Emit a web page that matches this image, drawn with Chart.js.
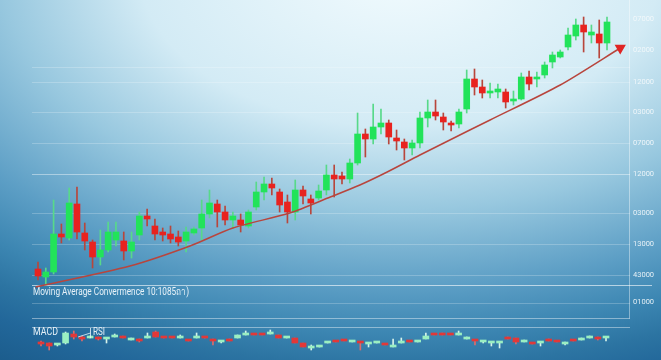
<!DOCTYPE html>
<html>
<head>
<meta charset="utf-8">
<script src="https://cdn.jsdelivr.net/npm/chart.js@4.4.1/dist/chart.umd.min.js"></script>
<style>
  html, body { margin: 0; padding: 0; background: #5c9ec5; overflow: hidden; }
  canvas { display: block; }
</style>
</head>
<body>
<canvas id="chart" width="661" height="360"></canvas>
<script>
// price candles (main panel)
const candleOpen  = [91, 83, 88, 126, 122, 156, 127, 118, 103, 110, 120, 119, 109, 125, 144, 134, 128, 126, 123, 119, 127, 132, 146, 156, 148, 140, 140, 134, 153, 168, 176, 168, 158, 148, 170, 161, 162, 170, 185, 184, 181, 197, 226, 221, 233, 237, 222, 218, 212, 217, 242, 248, 243, 237, 236, 251, 281, 273, 267, 268, 268, 259, 261, 283, 281, 285, 298, 303, 313, 324, 335, 325, 326, 317];
const candleClose = [84, 88, 126, 123, 157, 128, 119, 103, 110, 128, 128, 109, 118, 144, 141, 126, 125, 121, 118, 128, 131, 146, 157, 148, 140, 144, 135, 148, 168, 176, 172, 155, 148, 170, 164, 157, 169, 185, 181, 181, 197, 226, 221, 233, 237, 223, 219, 212, 217, 242, 248, 244, 238, 235, 248, 281, 273, 267, 269, 271, 258, 261, 283, 276, 283, 295, 305, 308, 325, 335, 328, 328, 317, 338];
const candleHigh  = [98, 92, 160, 136, 172, 173, 137, 120, 130, 138, 138, 128, 128, 148, 151, 141, 132, 134, 129, 133, 133, 160, 170, 160, 154, 148, 146, 150, 178, 183, 182, 171, 165, 180, 174, 165, 175, 195, 195, 188, 201, 247, 231, 256, 251, 240, 230, 221, 220, 248, 260, 260, 247, 239, 251, 290, 291, 280, 277, 276, 271, 269, 287, 289, 288, 298, 308, 310, 332, 341, 343, 335, 340, 343];
const candleLow   = [80, 75, 86, 117, 120, 121, 110, 92, 95, 108, 114, 100, 102, 120, 134, 120, 119, 117, 114, 108, 125, 120, 142, 133, 135, 132, 128, 132, 150, 160, 165, 148, 137, 140, 156, 146, 160, 165, 163, 176, 177, 195, 203, 216, 226, 216, 210, 200, 205, 212, 233, 240, 230, 229, 232, 247, 265, 262, 262, 262, 252, 255, 260, 270, 273, 282, 292, 302, 310, 320, 308, 317, 302, 310];

// trend arrow (x in candle index units)
const trendX = [-0.3, 11.8, 19.5, 25, 32.3, 37.5, 41.3, 44.8, 49, 55.4, 58, 67, 74.7];
const trendY = [73, 94, 114, 132, 147, 163, 175, 188, 205, 230, 240, 275, 312];

// lower MACD / RSI strip
const macdOpen  = [18, 17, 15, 17, 26, 23, 22, 22, 21, 23, 23, 20, 20, 22, 28, 23, 23, 22, 20, 22, 23, 21, 18, 21, 22, 25, 26, 26, 26, 25, 22, 22, 17, 12, 13, 17, 19, 20, 18, 18, 16, 17, 16, 13, 17, 19, 18, 21, 26, 26, 26, 25, 21, 20, 18, 17, 17, 22, 22, 18, 17, 17, 20, 19, 16, 20, 20, 22, 22, 22];
const macdClose = [16, 14, 16, 27, 23, 21, 23, 21, 22, 24, 22, 22, 19, 23, 23, 22, 22, 23, 19, 23, 22, 19, 19, 19, 25, 26, 25, 25, 27, 22, 23, 17, 13, 13, 14, 18, 18, 19, 19, 17, 17, 18, 15, 14, 18, 18, 19, 24, 25, 25, 25, 26, 23, 19, 19, 18, 18, 21, 18, 20, 16, 18, 19, 18, 17, 19, 21, 23, 21, 23];
const macdHigh  = [19, 17, 16, 28, 29, 24, 24, 23, 22, 26, 24, 22, 21, 27, 29, 23, 23, 25, 20, 27, 23, 21, 19, 21, 25, 29, 26, 26, 30, 25, 23, 22, 17, 15, 14, 18, 19, 20, 19, 18, 17, 18, 16, 21, 22, 19, 19, 27, 26, 27, 26, 29, 23, 20, 19, 18, 18, 23, 22, 20, 17, 18, 21, 19, 18, 20, 22, 24, 23, 23];
const macdLow   = [14, 10, 14, 16, 21, 19, 22, 20, 17, 23, 22, 20, 18, 22, 23, 22, 22, 22, 19, 22, 22, 15, 17, 19, 22, 25, 25, 25, 26, 22, 22, 17, 13, 10, 13, 17, 18, 19, 18, 10, 13, 17, 15, 13, 17, 18, 18, 21, 25, 25, 25, 25, 21, 15, 17, 14, 12, 21, 16, 18, 16, 14, 19, 18, 15, 19, 20, 22, 20, 19];

// right axis
const tickValues = [341, 310, 278, 248, 217, 186, 147, 116, 85, 58];
const tickLabels = ['07000', '02000', '12000', '03000', '07000', '12000', '03000', '13000', '43000', '01000'];

// horizontal rules
const gridLevels   = [293, 278, 248, 217, 147, 116, 85, 57];
const brightLevels = [186, 75, 42, 33];

const panelTitle = 'Moving Average Convermence 10:1085ถา)';

const GREEN = '#22e35a', GREEN_WICK = '#58d98a';
const RED = '#e8231f', RED_WICK = '#b8463c';
const PALE = '#9aefc2', PALE_WICK = '#d6f3ea';
const LRED = '#e23838', LRED_WICK = '#df6a6a';
const FONT = 'Roboto, "Open Sans", sans-serif';

const mainBodies = candleOpen.map((o, i) => ({ x: i, y: [Math.min(o, candleClose[i]), Math.max(o, candleClose[i])] }));
const mainWicks = candleOpen.map((o, i) => ({ x: i, y: [candleLow[i], candleHigh[i]] }));
const mainUp = candleOpen.map((o, i) => candleClose[i] >= o);

const macdBodies = macdOpen.map((o, i) => ({ x: i, y: [Math.min(o, macdClose[i]), Math.max(o, macdClose[i])] }));
const macdWicks = macdOpen.map((o, i) => ({ x: i, y: [macdLow[i], macdHigh[i]] }));
const macdUp = macdOpen.map((o, i) => macdClose[i] >= o);

const trendData = trendX.map((x, i) => ({ x, y: trendY[i] }));

// squeeze text horizontally so it spans a given width
function fitText(ctx, text, x, y, width) {
    const w = ctx.measureText(text).width;
    ctx.save();
    ctx.translate(x, y);
    ctx.scale(Math.min(1, width / w), 1);
    ctx.fillText(text, 0, 0);
    ctx.restore();
}

const backdrop = {
    id: 'backdrop',
    beforeDraw(chart) {
        const { ctx } = chart;
        ctx.save();
        ctx.translate(400, -30);
        ctx.scale(1 / 0.6, 1);
        const g = ctx.createRadialGradient(0, 0, 0, 0, 0, 460);
        g.addColorStop(0, '#f2fbfe');
        g.addColorStop(0.34, '#d3ebf5');
        g.addColorStop(0.52, '#98c8df');
        g.addColorStop(0.69, '#5c9ec5');
        g.addColorStop(0.79, '#3c86b2');
        g.addColorStop(0.86, '#2c74a2');
        g.addColorStop(0.92, '#22679a');
        g.addColorStop(1, '#1b5c8c');
        ctx.fillStyle = g;
        ctx.fillRect(-2000, -2000, 4000, 4000);
        ctx.restore();
    },
    beforeDatasetsDraw(chart) {
        const { ctx, chartArea } = chart;
        const y = chart.scales.y;
        const left = chartArea.left, right = chartArea.right;
        ctx.save();
        ctx.lineWidth = 1;
        gridLevels.forEach(v => {
            const py = Math.round(y.getPixelForValue(v)) + 0.5;
            ctx.strokeStyle = 'rgba(255,255,255,0.22)';
            ctx.beginPath(); ctx.moveTo(left, py); ctx.lineTo(right, py); ctx.stroke();
        });
        brightLevels.forEach((v, i) => {
            const py = Math.round(y.getPixelForValue(v)) + 0.5;
            ctx.strokeStyle = i === 1 ? 'rgba(255,255,255,0.6)' : 'rgba(255,255,255,0.42)';
            ctx.beginPath(); ctx.moveTo(left, py); ctx.lineTo(i === 1 ? right + 22 : right, py); ctx.stroke();
        });
        // right border of the price + MA panels
        const bx = right - 0.5;
        ctx.strokeStyle = 'rgba(255,255,255,0.4)';
        ctx.beginPath(); ctx.moveTo(bx, 0); ctx.lineTo(bx, Math.round(y.getPixelForValue(42)) + 0.5); ctx.stroke();
        ctx.restore();
    },
    afterDatasetsDraw(chart) {
        const { ctx, chartArea } = chart;
        const y = chart.scales.y;
        const left = chartArea.left;
        ctx.save();
        ctx.fillStyle = 'rgba(240,248,252,0.95)';
        ctx.textBaseline = 'middle';
        ctx.font = '10px ' + FONT;
        fitText(ctx, panelTitle, left + 1, y.getPixelForValue(68), 156);
        fitText(ctx, 'MACD', left + 1, y.getPixelForValue(28), 25);
        fitText(ctx, 'RSI', left + 61, y.getPixelForValue(28), 12);
        ctx.strokeStyle = 'rgba(230,245,250,0.8)';
        ctx.beginPath();
        ctx.moveTo(left + 58.5, y.getPixelForValue(32));
        ctx.lineTo(left + 58.5, y.getPixelForValue(22));
        ctx.moveTo(left + 46, y.getPixelForValue(23));
        ctx.lineTo(left + 58.5, y.getPixelForValue(27));
        ctx.stroke();
        ctx.restore();
    }
};

new Chart(document.getElementById('chart'), {
    data: {
        datasets: [
            {
                type: 'line',
                data: trendData,
                xAxisID: 'x', yAxisID: 'y',
                borderColor: '#b8453d',
                borderWidth: 1.5,
                tension: 0.25,
                pointRadius: trendData.map((p, i) => i === trendData.length - 1 ? 5 : 0),
                pointStyle: 'triangle',
                rotation: 180,
                pointBackgroundColor: '#e02424',
                pointBorderColor: '#e02424',
                order: 0
            },
            {
                type: 'bar',
                data: mainWicks,
                xAxisID: 'x', yAxisID: 'y',
                grouped: false,
                barThickness: 1,
                backgroundColor: mainUp.map(u => u ? GREEN_WICK : RED_WICK),
                order: 3
            },
            {
                type: 'bar',
                data: mainBodies,
                xAxisID: 'x', yAxisID: 'y',
                grouped: false,
                barThickness: 6,
                minBarLength: 2,
                backgroundColor: mainUp.map(u => u ? GREEN : RED),
                order: 2
            },
            {
                type: 'bar',
                data: macdWicks,
                xAxisID: 'x2', yAxisID: 'y',
                grouped: false,
                barThickness: 1,
                backgroundColor: macdUp.map(u => u ? PALE_WICK : LRED_WICK),
                order: 3
            },
            {
                type: 'bar',
                data: macdBodies,
                xAxisID: 'x2', yAxisID: 'y',
                grouped: false,
                barThickness: 6,
                minBarLength: 2,
                backgroundColor: macdUp.map(u => u ? PALE : LRED),
                order: 2
            }
        ]
    },
    options: {
        responsive: false,
        animation: false,
        maintainAspectRatio: false,
        devicePixelRatio: 1,
        layout: { autoPadding: false, padding: { left: 32, right: 0, top: 0, bottom: 0 } },
        plugins: { legend: { display: false }, tooltip: { enabled: false } },
        scales: {
            x: { type: 'linear', display: false, offset: false, min: -0.77, max: 75.95 },
            x2: { type: 'linear', display: false, offset: false, min: -1.1, max: 71.93 },
            y: {
                position: 'right',
                min: 0, max: 360,
                border: { display: false },
                grid: { display: false, drawTicks: false, tickLength: 0 },
                afterBuildTicks: s => { s.ticks = tickValues.map(v => ({ value: v })); },
                afterFit: s => { s.width = 31; s.paddingTop = 0; s.paddingBottom = 0; },
                ticks: {
                    autoSkip: false,
                    padding: 3,
                    color: 'rgba(245,250,252,0.9)',
                    font: { size: 7.5, family: FONT },
                    callback: v => tickLabels[tickValues.indexOf(v)]
                }
            }
        }
    },
    plugins: [backdrop]
});
</script>
</body>
</html>
